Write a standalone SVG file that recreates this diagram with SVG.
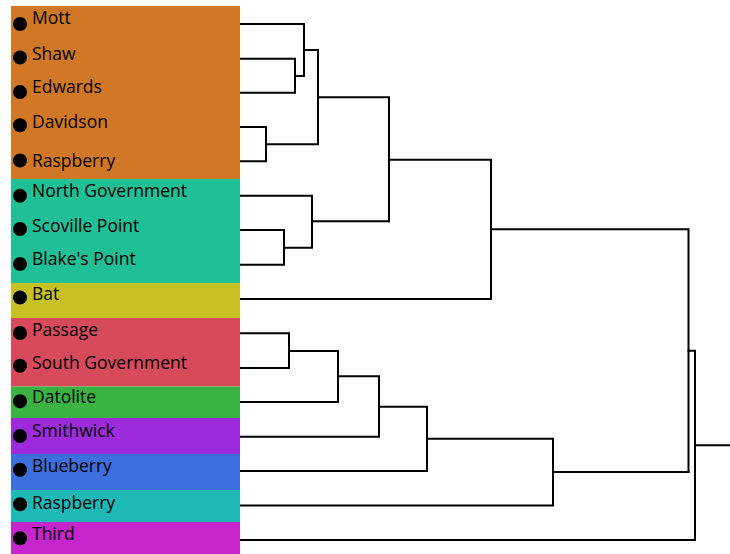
<svg xmlns="http://www.w3.org/2000/svg" width="730" height="554" viewBox="0 0 730 554">
<style>
.lbl{font-family:"Open Sans","Noto Sans",sans-serif;font-size:17.5px;fill:#000}
.dot{fill:#000}
.ln{fill:none;stroke:#000;stroke-width:2;stroke-linejoin:miter;stroke-linecap:square}
</style>
<rect width="730" height="554" fill="#fff"/>
<g id="bands">
<rect x="11" y="6" width="229" height="173" fill="#D07826"/>
<rect x="11" y="179" width="229" height="104" fill="#21BF95"/>
<rect x="11" y="283" width="229" height="35" fill="#C8C126"/>
<rect x="11" y="318" width="229" height="68.5" fill="#D64A5B"/>
<rect x="11" y="386.5" width="229" height="31.5" fill="#3AB343"/>
<rect x="11" y="418" width="229" height="36" fill="#9E2BDB"/>
<rect x="11" y="454" width="229" height="36" fill="#3D6EDD"/>
<rect x="11" y="490" width="229" height="32" fill="#1EB9B7"/>
<rect x="11" y="522" width="229" height="32" fill="#C624CD"/>
</g>
<g id="n-mott"><circle class="dot" cx="20" cy="24" r="7"/><text class="lbl" x="32" y="24">Mott</text></g>
<g id="n-shaw"><circle class="dot" cx="20" cy="57.5" r="7"/><text class="lbl" x="32" y="60">Shaw</text></g>
<g id="n-edwards"><circle class="dot" cx="20" cy="92" r="7"/><text class="lbl" x="32" y="92.7">Edwards</text></g>
<g id="n-davidson"><circle class="dot" cx="20" cy="125.3" r="7"/><text class="lbl" x="32" y="128.3">Davidson</text></g>
<g id="n-raspberry1"><circle class="dot" cx="20" cy="160.5" r="7"/><text class="lbl" x="32" y="167.3">Raspberry</text></g>
<g id="n-northgov"><circle class="dot" cx="20" cy="195.8" r="7"/><text class="lbl" x="32" y="197.3">North Government</text></g>
<g id="n-scoville"><circle class="dot" cx="20" cy="229" r="7"/><text class="lbl" x="32" y="232.3">Scoville Point</text></g>
<g id="n-blakes"><circle class="dot" cx="20" cy="264" r="7"/><text class="lbl" x="32" y="265">Blake's Point</text></g>
<g id="n-bat"><circle class="dot" cx="20" cy="297.5" r="7"/><text class="lbl" x="32" y="300">Bat</text></g>
<g id="n-passage"><circle class="dot" cx="20" cy="333" r="7"/><text class="lbl" x="32" y="335.7">Passage</text></g>
<g id="n-southgov"><circle class="dot" cx="20" cy="365.8" r="7"/><text class="lbl" x="32" y="369.3">South Government</text></g>
<g id="n-datolite"><circle class="dot" cx="20" cy="401.3" r="7"/><text class="lbl" x="32" y="403.3">Datolite</text></g>
<g id="n-smithwick"><circle class="dot" cx="20" cy="436" r="7"/><text class="lbl" x="32" y="437.3">Smithwick</text></g>
<g id="n-blueberry"><circle class="dot" cx="20" cy="469.7" r="7"/><text class="lbl" x="32" y="472.3">Blueberry</text></g>
<g id="n-raspberry2"><circle class="dot" cx="20" cy="504.3" r="7"/><text class="lbl" x="32" y="509.3">Raspberry</text></g>
<g id="n-third"><circle class="dot" cx="20" cy="538.3" r="7"/><text class="lbl" x="32" y="540">Third</text></g>
<g id="connectors" class="ln">
<path d="M241 24H304V76M241 58.7H295V92.7H241M295 76H304"/>
<path d="M304 50H318V144.3M241 127H266V161.3H241M266 144.3H318"/>
<path d="M318 97.3H389V221.3"/>
<path d="M241 195.7H312V247.7M241 230H284V264.7H241M284 247.7H312M312 221.3H389"/>
<path d="M389 159.7H491V299H241"/>
<path d="M491 229.3H688.5V472"/>
<path d="M241 333.3H289V368H241M289 351H338V402H241M338 376.3H379V436.7H241M379 406.7H427V471H241M427 438.7H553V505.5H241M553 472H688.5"/>
<path d="M688.5 350.7H695V540H241M695 445.3H730"/>
</g>
</svg>
